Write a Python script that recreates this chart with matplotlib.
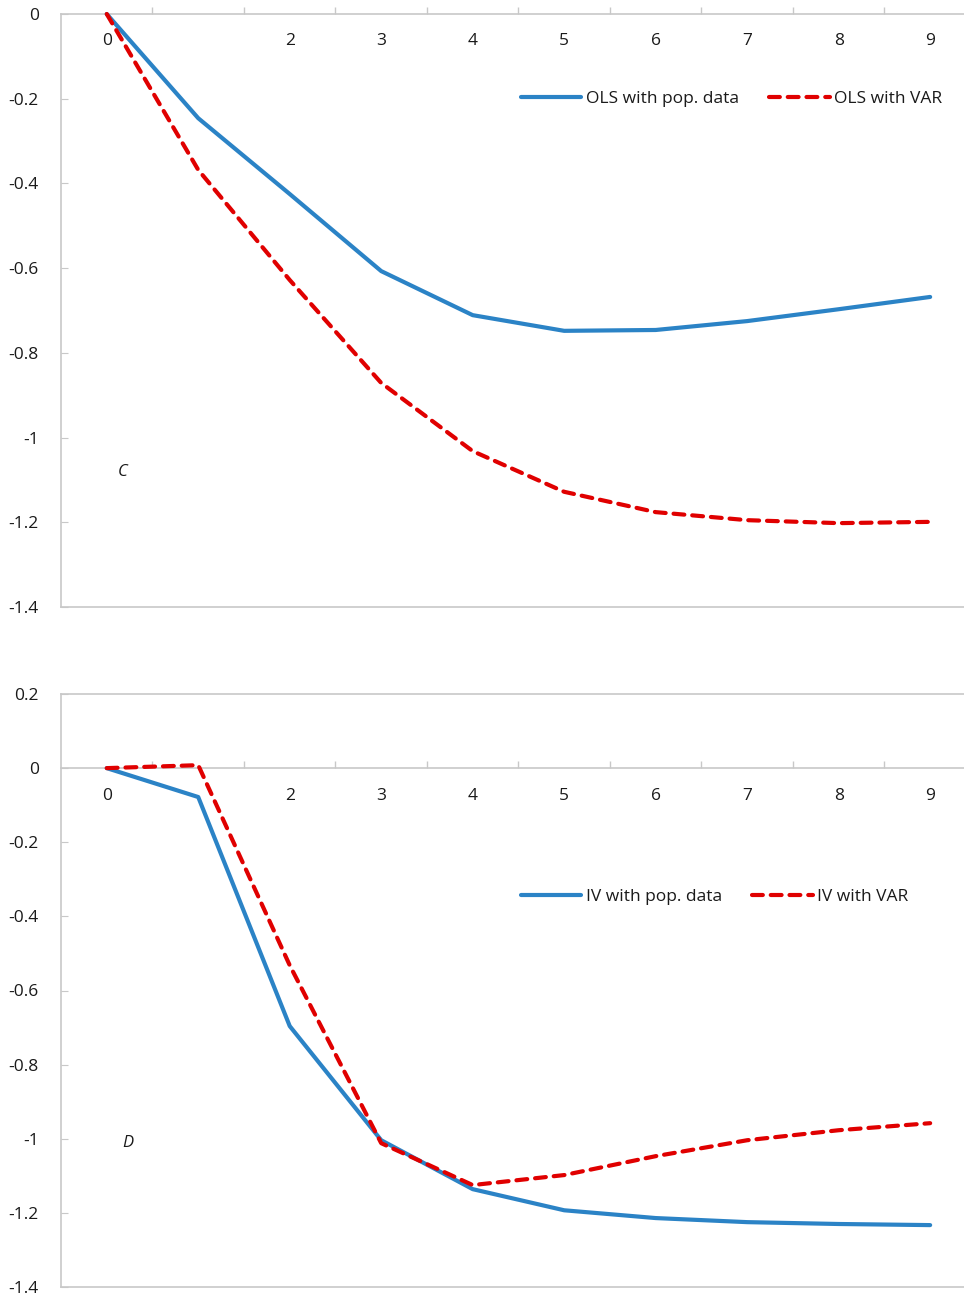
import matplotlib
matplotlib.use("Agg")
import matplotlib.pyplot as plt
import numpy as np

plt.rcParams['font.family'] = ['Open Sans', 'DejaVu Sans']

# horizons
steps = [0, 1, 2, 3, 4, 5, 6, 7, 8, 9]
step_labels = ['0', '', '2', '3', '4', '5', '6', '7', '8', '9']

# panel C
ols_pop = [0.0, -0.246, -0.425, -0.607, -0.711, -0.748, -0.746, -0.725, -0.697, -0.668]
ols_var = [0.0, -0.368, -0.628, -0.871, -1.032, -1.128, -1.176, -1.195, -1.202, -1.199]

# panel D
iv_pop = [0.0, -0.078, -0.696, -1.004, -1.136, -1.193, -1.214, -1.225, -1.230, -1.233]
iv_var = [0.0, 0.008, -0.532, -1.012, -1.125, -1.098, -1.047, -1.004, -0.977, -0.958]

blue = '#2B83C6'
red = '#E00000'
grey = '#C8C8C8'
txt = '#1A1A1A'

fig = plt.figure(figsize=(9.64, 12.97), dpi=100)
W, H = 964, 1297
left = 61 / W
ax1 = fig.add_axes([left, 1 - 607 / H, 1 - left, (607 - 14) / H])
ax2 = fig.add_axes([left, 1 - 1287 / H, 1 - left, (1287 - 694) / H])


def style(ax, ylo, yhi, yticks):
    ax.set_xlim(-0.5, 9.37)
    ax.set_ylim(ylo, yhi)
    for s in ['top', 'right']:
        ax.spines[s].set_visible(False)
    ax.spines['left'].set_color(grey)
    ax.spines['left'].set_linewidth(1.2)
    ax.spines['bottom'].set_position(('data', 0))
    ax.spines['bottom'].set_color(grey)
    ax.spines['bottom'].set_linewidth(1.2)
    ax.set_yticks(yticks)
    ax.set_yticklabels([f'{v:g}' for v in yticks])
    ax.tick_params(axis='y', direction='in', length=5, color=grey,
                   labelsize=12.5, labelcolor=txt, pad=16)
    ax.set_xticks(steps)
    ax.set_xticklabels(step_labels)
    ax.set_xticks(np.arange(0.5, 9, 1), minor=True)
    ax.tick_params(axis='x', which='major', length=0, labelsize=12.5,
                   labelcolor=txt, pad=14)
    ax.tick_params(axis='x', which='minor', direction='in', length=5,
                   color=grey, width=1)
    ax.axhline(ylo, color=grey, lw=1.2, clip_on=False)
    if yhi != 0:
        ax.axhline(yhi, color=grey, lw=1.2, clip_on=False)


style(ax1, -1.4, 0, [0, -0.2, -0.4, -0.6, -0.8, -1, -1.2, -1.4])
style(ax2, -1.4, 0.2, [0.2, 0, -0.2, -0.4, -0.6, -0.8, -1, -1.2, -1.4])

kw_solid = dict(color=blue, lw=3, solid_capstyle='round', clip_on=False)
kw_dash = dict(color=red, lw=3, dashes=(2.6, 1.9), dash_capstyle='round',
               clip_on=False)

ax1.plot(steps, ols_pop, label='OLS with pop. data', zorder=3, **kw_solid)
ax1.plot(steps, ols_var, label='OLS with VAR', zorder=4, **kw_dash)
ax2.plot(steps, iv_pop, label='IV with pop. data', zorder=3, **kw_solid)
ax2.plot(steps, iv_var, label='IV with VAR', zorder=4, **kw_dash)

for ax, yf in [(ax1, (607 - 99) / 593), (ax2, (1287 - 897) / 593)]:
    ax.legend(loc='center left', bbox_to_anchor=(0.509, yf), ncol=2,
              frameon=False, fontsize=12.5, handlelength=3.5,
              handletextpad=0.25, columnspacing=1.75, borderpad=0,
              borderaxespad=0, labelcolor=txt)

ax1.text(0.175, -1.081, 'C', style='italic', fontsize=12, color=txt,
         ha='center', va='center')
ax2.text(0.23, -1.012, 'D', style='italic', fontsize=12, color=txt,
         ha='center', va='center')

fig.savefig('out.png', dpi=100)
